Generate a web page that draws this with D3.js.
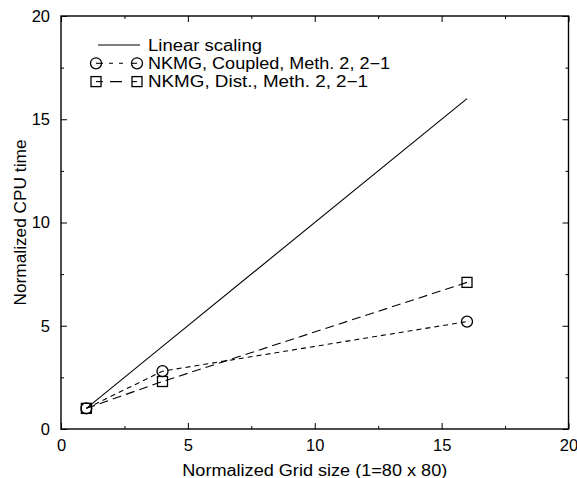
<!DOCTYPE html>
<html>
<head>
  <meta charset="utf-8">
  <title>cpu-time</title>
  <style>
    * { padding: 0; margin: 0; }
    body { background: #fff; }
    svg { display: block; font-family: "Liberation Sans", Arial, sans-serif; }
    .tick text { font-size: 16.5px; fill: #000; }
  </style>
</head>
<body>
  <svg id="svg"></svg>
  <script src="https://cdnjs.cloudflare.com/ajax/libs/d3/7.8.5/d3.min.js"></script>
  <script>
    // values
    const gridSize = [1, 4, 16];
    const linearScaling = [1, 4, 16];
    const coupled = [1, 2.8, 5.2];
    const dist = [1, 2.3, 7.1];
    const majorTicks = [0, 5, 10, 15, 20];
    const minorTicks = [2.5, 7.5, 12.5, 17.5];
    const legendLabels = ['Linear scaling', 'NKMG, Coupled, Meth. 2, 2\u22121', 'NKMG, Dist., Meth. 2, 2\u22121'];

    const dimension = {
      width: 577,
      height: 478,
      margin: { top: 16, right: 8.5, bottom: 49, left: 61 }
    }

    const svg = d3.select('#svg').attr('width', dimension.width).attr('height', dimension.height);

    const x0 = dimension.margin.left, x1 = dimension.width - dimension.margin.right;
    const y0 = dimension.height - dimension.margin.bottom, y1 = dimension.margin.top;

    const xScale = d3.scaleLinear().domain([0, 20]).range([x0, x1]);
    const yScale = d3.scaleLinear().domain([0, 20]).range([y0, y1]);

    // minor + major ticks, inward, on all four sides
    const addAxis = (axis, id, transform, labels) => {
      const g = svg.append('g').attr('id', id).attr('transform', transform).call(axis);
      g.select('.domain').remove();
      g.selectAll('line').attr('stroke', '#000');
      if (!labels) g.selectAll('text').remove();
      return g;
    }

    const fmt = d3.format('d');
    addAxis(d3.axisBottom(xScale).tickValues(minorTicks).tickSize(-3).tickFormat(''), 'x-minor', `translate(0,${y0})`, false);
    addAxis(d3.axisTop(xScale).tickValues(minorTicks).tickSize(-3).tickFormat(''), 'x2-minor', `translate(0,${y1})`, false);
    addAxis(d3.axisLeft(yScale).tickValues(minorTicks).tickSize(-3).tickFormat(''), 'y-minor', `translate(${x0},0)`, false);
    addAxis(d3.axisRight(yScale).tickValues(minorTicks).tickSize(-3).tickFormat(''), 'y2-minor', `translate(${x1},0)`, false);

    addAxis(d3.axisBottom(xScale).tickValues(majorTicks).tickSize(-6).tickPadding(10).tickFormat(fmt), 'x-axis', `translate(0,${y0})`, true);
    addAxis(d3.axisTop(xScale).tickValues(majorTicks).tickSize(-6).tickFormat(''), 'x2-axis', `translate(0,${y1})`, false);
    addAxis(d3.axisLeft(yScale).tickValues(majorTicks).tickSize(-6).tickPadding(11).tickFormat(fmt), 'y-axis', `translate(${x0},0)`, true);
    addAxis(d3.axisRight(yScale).tickValues(majorTicks).tickSize(-6).tickFormat(''), 'y2-axis', `translate(${x1},0)`, false);

    // frame
    svg.append('rect')
      .attr('x', x0).attr('y', y1)
      .attr('width', x1 - x0).attr('height', y0 - y1)
      .attr('fill', 'none').attr('stroke', '#000').attr('stroke-width', 1.4);

    // axis titles
    svg.append('text')
      .text('Normalized Grid size (1=80 x 80)')
      .attr('x', (x0 + x1) / 2).attr('y', 475.5)
      .attr('text-anchor', 'middle')
      .attr('textLength', 265).attr('lengthAdjust', 'spacingAndGlyphs')
      .style('font-size', '16px');

    svg.append('text')
      .text('Normalized CPU time')
      .attr('transform', `translate(26,${(y0 + y1) / 2}) rotate(-90)`)
      .attr('text-anchor', 'middle')
      .attr('textLength', 166).attr('lengthAdjust', 'spacingAndGlyphs')
      .style('font-size', '17px');

    const series = [
      { values: linearScaling, dash: null, legendDash: null, marker: null, width: 114 },
      { values: coupled, dash: '5,4', legendDash: '0,13,4,6,4,30', marker: 'circle', width: 242 },
      { values: dist, dash: '9,5', legendDash: '0,14,12,30', marker: 'square', width: 220 }
    ];

    const line = d3.line().x((d, i) => xScale(gridSize[i])).y(d => yScale(d));

    const drawMarker = (g, type, cx, cy) => {
      if (type === 'circle') {
        g.append('circle').attr('cx', cx).attr('cy', cy).attr('r', 5.5)
          .attr('fill', 'none').attr('stroke', '#000').attr('stroke-width', 1.3);
      } else if (type === 'square') {
        g.append('rect').attr('x', cx - 5).attr('y', cy - 5).attr('width', 10).attr('height', 10)
          .attr('fill', 'none').attr('stroke', '#000').attr('stroke-width', 1.3);
      }
    }

    series.forEach(s => {
      const g = svg.append('g');
      g.append('path')
        .attr('d', line(s.values))
        .attr('fill', 'none')
        .attr('stroke', '#000')
        .attr('stroke-width', 1.1)
        .attr('stroke-dasharray', s.dash);
      s.values.forEach((v, i) => drawMarker(g, s.marker, xScale(gridSize[i]), yScale(v)));
    });

    // legend
    const legend = svg.append('g').attr('id', 'legend');
    series.forEach((s, i) => {
      const ly = 45 + i * 18.3;
      const lx0 = s.marker ? 96 : 98, lx1 = s.marker ? 137 : 140;
      legend.append('line')
        .attr('x1', lx0).attr('x2', lx1).attr('y1', ly).attr('y2', ly)
        .attr('stroke', '#000').attr('stroke-width', 1.1)
        .attr('stroke-dasharray', s.legendDash);
      // short stubs from the markers, as in the original key
      if (s.marker) {
        legend.append('line').attr('x1', lx0).attr('x2', lx0 + 7).attr('y1', ly).attr('y2', ly)
          .attr('stroke', '#000').attr('stroke-width', 1.1);
        legend.append('line').attr('x1', lx1 - 5).attr('x2', lx1).attr('y1', ly).attr('y2', ly)
          .attr('stroke', '#000').attr('stroke-width', 1.1);
      }
      drawMarker(legend, s.marker, lx0, ly);
      drawMarker(legend, s.marker, lx1, ly);
      legend.append('text')
        .text(legendLabels[i])
        .attr('x', 148).attr('y', ly + 5.8)
        .attr('textLength', s.width).attr('lengthAdjust', 'spacingAndGlyphs')
        .style('font-size', '16px');
    });
  </script>
</body>
</html>
